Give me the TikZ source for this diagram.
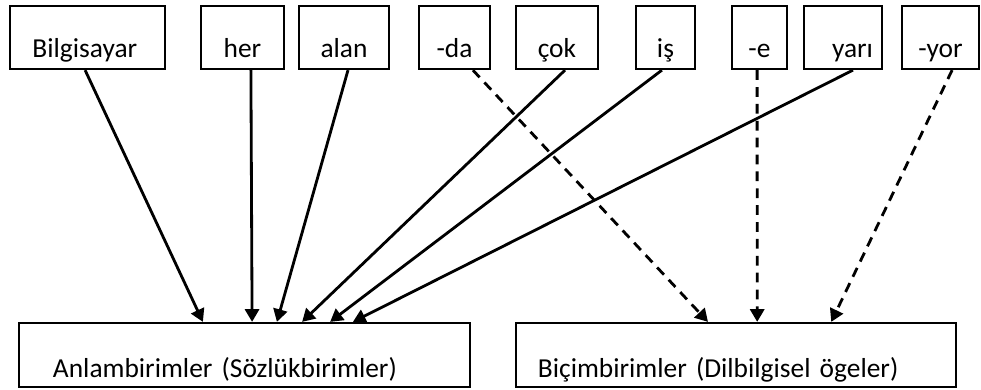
\documentclass[tikz,border=0pt]{standalone}
\usepackage{fontspec}
\setmainfont{Carlito}
\usetikzlibrary{arrows.meta}
\tikzset{>={Triangle[length=9pt,width=10pt]}}
\tikzset{
  word/.style = {draw, line width=1.6pt, inner sep=0pt,
    minimum height=1.575cm, text height=1.275cm, text depth=0.3cm},
  unit/.style = {draw, line width=1.6pt, inner ysep=0pt, align=left,
    minimum height=1.6cm, text height=1.35cm, text depth=0.25cm},
  link/.style = {->, line width=2pt},
  affix/.style = {link, dash pattern=on 7pt off 5pt}
}

\begin{document}
\begin{tikzpicture}[x=0.025cm,y=-0.025cm,font=\fontsize{19.5}{23}\selectfont]
  \useasboundingbox (0,0) rectangle (981,389);
  % words and suffixes
  \node[word, minimum width=3.875cm, text width=2.75cm, align=left] (bilg) at (87.5,37.5) {Bilgisayar};
  \node[word, minimum width=2.075cm] (her)  at (242.5,37.5) {her};
  \node[word, minimum width=2.25cm]  (alan) at (344,37.5)   {alan};
  \node[word, minimum width=1.775cm] (da)   at (454.5,37.5) {-da};
  \node[word, minimum width=2.05cm]  (cok)  at (557,37.5)   {çok};
  \node[word, minimum width=1.475cm] (is)   at (665.5,37.5) {iş};
  \node[word, minimum width=1.375cm] (e)    at (759.5,37.5) {-e};
  \node[word, minimum width=1.95cm, text width=1.5cm, align=right] (yari) at (843,37.5) {yarı};
  \node[word, minimum width=1.925cm] (yor)  at (940.5,37.5) {-yor};
  % the two kinds of units
  \node[unit, inner xsep=0.85cm, text width=9.575cm] (anlam) at (244.5,355) {Anlambirimler (Sözlükbirimler)};
  \node[unit, inner xsep=0.55cm, text width=9.9cm]   (bicim) at (736,355)   {Biçimbirimler (Dilbilgisel ögeler)};
  %
  \draw[link] ([xshift=-0.06cm]bilg.south) -- ([xshift=-1.04cm]anlam.north);
  \draw[link] ([xshift=0.21cm]her.south)   -- ([xshift=0.19cm]anlam.north);
  \draw[link] ([xshift=0.1cm]alan.south)   -- ([xshift=0.81cm]anlam.north);
  \draw[link] ([xshift=0.2cm]cok.south)    -- ([xshift=1.44cm]anlam.north);
  \draw[link] ([xshift=-0.09cm]is.south)   -- ([xshift=2.14cm]anlam.north);
  \draw[link] ([xshift=0.25cm]yari.south)  -- ([xshift=2.71cm]anlam.north);
  %
  \draw[affix] ([xshift=0.46cm]da.south)   -- ([xshift=-0.7cm]bicim.north);
  \draw[affix] ([xshift=-0.06cm]e.south)   -- ([xshift=0.53cm]bicim.north);
  \draw[affix] ([xshift=0.29cm]yor.south)  -- ([xshift=2.38cm]bicim.north);
\end{tikzpicture}
\end{document}
